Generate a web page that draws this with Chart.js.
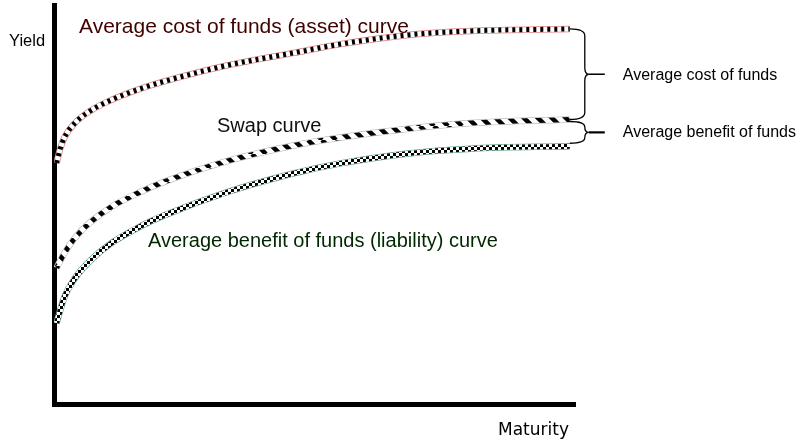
<!DOCTYPE html>
<html>
<head>
<meta charset="utf-8">
<script src="https://cdn.jsdelivr.net/npm/chart.js@4.4.0/dist/chart.umd.min.js"></script>
<style>
  body { margin: 0; background: #fff; }
  canvas { display: block; }
</style>
</head>
<body>
<canvas id="yieldCurves" width="800" height="440"></canvas>
<script>
// values (maturity 0-100, yield 0-100, no units)
const maturity = [0.5, 1.2, 2, 4, 7, 11, 17, 21, 33, 46, 55, 68, 80, 99];
const assetCurve = [60.4, 64.0, 66.8, 70.4, 73.5, 76.2, 79.2, 80.8, 84.8, 88.0, 90.2, 92.5, 93.5, 94.0];
const swapCurve = [34.1, 35.9, 37.8, 41.6, 45.6, 49.4, 53.4, 55.6, 60.8, 64.8, 66.8, 69.0, 70.4, 71.3];
const liabilityCurve = [20.3, 23.5, 26.8, 31.5, 36.0, 40.3, 44.8, 47.2, 53.0, 57.8, 60.3, 62.8, 64.0, 64.6];

Chart.defaults.font.family = "'Liberation Sans', Arial, sans-serif";

function stripes() {
  const c = document.createElement("canvas");
  c.width = 14;
  c.height = 14;
  const g = c.getContext("2d");
  g.fillStyle = "#fff";
  g.fillRect(0, 0, 14, 14);
  g.strokeStyle = "#000";
  g.lineWidth = 4.5;
  for (let o = -14; o <= 14; o += 14) {
    g.beginPath();
    g.moveTo(o, 0);
    g.lineTo(o + 14, 14);
    g.stroke();
  }
  return g.createPattern(c, "repeat");
}

function checkers() {
  const c = document.createElement("canvas");
  c.width = 6;
  c.height = 6;
  const g = c.getContext("2d");
  g.fillStyle = "#fff";
  g.fillRect(0, 0, 6, 6);
  g.fillStyle = "#000";
  g.fillRect(0, 0, 3, 3);
  g.fillRect(3, 3, 3, 3);
  return g.createPattern(c, "repeat");
}

// each curve = outline, white core, patterned top layer
function layers(values, edge, top, dash) {
  const pts = maturity.map((m, i) => ({ x: m, y: values[i] }));
  const base = { data: pts, pointRadius: 0, cubicInterpolationMode: "monotone", borderCapStyle: "butt" };
  return [
    { ...base, borderColor: edge, borderWidth: 6.5, order: 3 },
    { ...base, borderColor: "#fff", borderWidth: 5, order: 2 },
    { ...base, borderColor: top, borderWidth: 5, borderDash: dash, order: 1 }
  ];
}

function brace(ctx, x0, yTop, yBot, lw) {
  const xs = x0 + 15;
  const yMid = (yTop + yBot) / 2;
  const r = Math.min(7, (yBot - yTop) / 4);
  ctx.strokeStyle = "#000";
  ctx.lineWidth = 1.3;
  ctx.beginPath();
  ctx.moveTo(x0, yTop);
  ctx.quadraticCurveTo(xs, yTop, xs, yTop + r);
  ctx.lineTo(xs, yMid - r);
  ctx.quadraticCurveTo(xs, yMid, xs + 4, yMid);
  ctx.quadraticCurveTo(xs, yMid, xs, yMid + r);
  ctx.lineTo(xs, yBot - r);
  ctx.quadraticCurveTo(xs, yBot, x0, yBot);
  ctx.stroke();
  ctx.lineWidth = lw;
  ctx.beginPath();
  ctx.moveTo(xs + 4, yMid);
  ctx.lineTo(xs + 20, yMid);
  ctx.stroke();
  return { x: xs + 38, y: yMid };
}

const labelsPlugin = {
  id: "labelsPlugin",
  afterDraw(chart) {
    const ctx = chart.ctx;
    const xs = chart.scales.x;
    const ys = chart.scales.y;
    const last = maturity.length - 1;
    const xEnd = xs.getPixelForValue(maturity[last]);
    const yA = ys.getPixelForValue(assetCurve[last]);
    const yS = ys.getPixelForValue(swapCurve[last]);
    const yL = ys.getPixelForValue(liabilityCurve[last]);

    ctx.save();
    const t1 = brace(ctx, xEnd, yA, yS, 1.5);
    const t2 = brace(ctx, xEnd, yS + 2, yL - 3, 2.2);

    ctx.textBaseline = "alphabetic";
    ctx.fillStyle = "#000";
    ctx.font = "16px 'Liberation Sans', Arial, sans-serif";
    ctx.fillText("Average cost of funds", t1.x, t1.y + 6);
    ctx.fillText("Average benefit of funds", t2.x, t2.y + 5);

    ctx.font = "16.5px 'Liberation Sans', Arial, sans-serif";
    ctx.fillText("Yield", 9, 46);

    ctx.font = "17px 'DejaVu Sans', sans-serif";
    ctx.fillText("Maturity", 498, 435);

    ctx.font = "21px 'Liberation Sans', Arial, sans-serif";
    ctx.fillStyle = "#400000";
    ctx.fillText("Average cost of funds (asset) curve", 79, 33);

    ctx.font = "20px 'Liberation Sans', Arial, sans-serif";
    ctx.fillStyle = "#111";
    ctx.fillText("Swap curve", 217, 132);

    ctx.fillStyle = "#002800";
    ctx.fillText("Average benefit of funds (liability) curve", 148, 247);
    ctx.restore();
  }
};

const ctx = document.getElementById("yieldCurves");

const yieldCurves = new Chart(ctx, {
  type: "line",
  data: {
    datasets: [
      ...layers(assetCurve, "#e08080", "#000", [3, 4]),
      ...layers(swapCurve, "#b8b8b8", stripes(), []),
      ...layers(liabilityCurve, "#5aa080", checkers(), [])
    ]
  },
  options: {
    responsive: false,
    animation: false,
    layout: {
      padding: { left: 54, right: 225, top: 5, bottom: 36 }
    },
    plugins: {
      legend: { display: false },
      tooltip: { enabled: false }
    },
    scales: {
      x: {
        type: "linear",
        min: 0,
        max: 100,
        ticks: { display: false },
        grid: { display: false, drawTicks: false },
        border: { display: true, color: "#000", width: 5 }
      },
      y: {
        min: 0,
        max: 100,
        ticks: { display: false },
        grid: { display: false, drawTicks: false },
        border: { display: true, color: "#000", width: 5 }
      }
    }
  },
  plugins: [labelsPlugin]
});
</script>
</body>
</html>
